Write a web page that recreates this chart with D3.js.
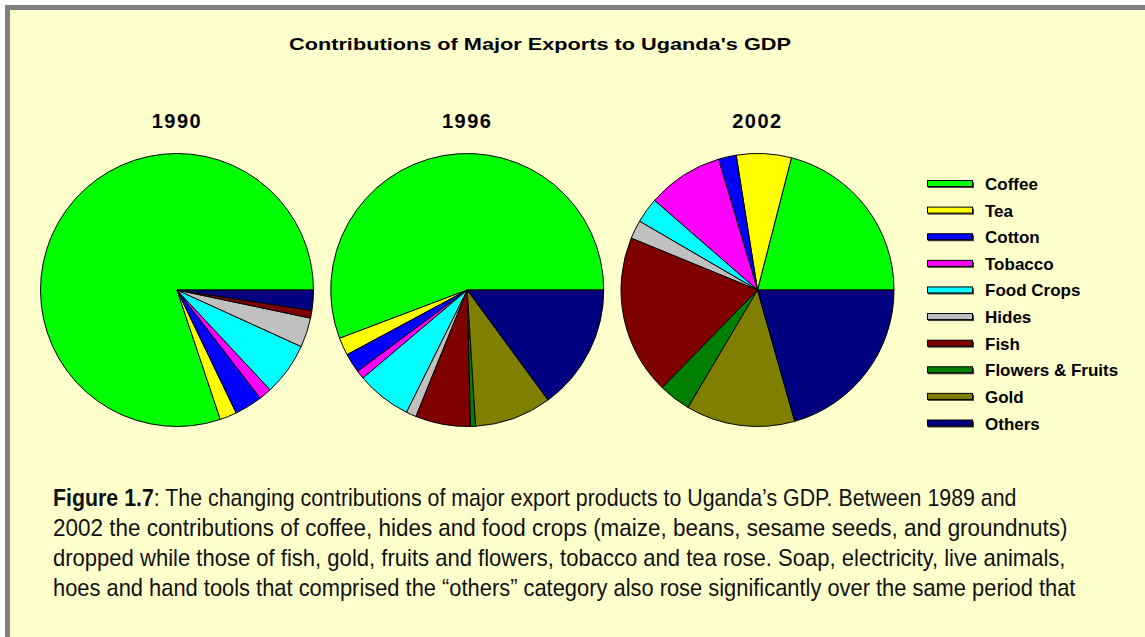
<!DOCTYPE html>
<html>
<head>
<meta charset="utf-8">
<style>
  body { margin: 0; background: #fff; }
  svg { display: block; }
</style>
</head>
<body>
<svg width="1145" height="637"></svg>
<script src="https://cdnjs.cloudflare.com/ajax/libs/d3/7.8.5/d3.min.js"></script>
<script>

// ---- data (percent of export contribution) ----
var categories = ["Coffee", "Tea", "Cotton", "Tobacco", "Food Crops", "Hides", "Fish", "Flowers & Fruits", "Gold", "Others"];
var colors = ["#00ff00", "#ffff00", "#0000ff", "#ff00ff", "#00ffff", "#c0c0c0", "#800000", "#008000", "#808000", "#000080"];
var years = ["1990", "1996", "2002"];
var values1990 = [80.1, 2.0, 3.3, 1.5, 6.25, 3.5, 0.9, 0, 0, 2.4];
var values1996 = [55.7, 2.1, 2.3, 1.0, 6.5, 1.2, 6.5, 0.6, 9.1, 14.9];
var values2002 = [21.0, 6.5, 2.1, 9.0, 3.0, 2.2, 18.9, 3.8, 12.9, 20.6];
var seriesByYear = [values1990, values1996, values2002];

var title = "Contributions of Major Exports to Uganda's GDP";
var captionBold = "Figure 1.7";
var captionLines = [
  ": The changing contributions of major export products to Uganda\u2019s GDP. Between 1989 and",
  "2002 the contributions of coffee, hides and food crops (maize, beans, sesame seeds, and groundnuts)",
  "dropped while those of fish, gold, fruits and flowers, tobacco and tea rose. Soap, electricity, live animals,",
  "hoes and hand tools that comprised the \u201cothers\u201d category also rose significantly over the same period that"
];

var svg = d3.select("svg"),
    width = +svg.attr("width"),
    height = +svg.attr("height");

// panel with grey frame (top and left edges visible)
svg.append("rect").attr("x", 5).attr("y", 5).attr("width", width).attr("height", height).attr("fill", "#808080");
svg.append("rect").attr("x", 10).attr("y", 10).attr("width", width).attr("height", height).attr("fill", "#ffffcc");

var headFont = "'Liberation Sans', Arial, sans-serif";

svg.append("text")
  .attr("x", 540).attr("y", 50)
  .attr("text-anchor", "middle")
  .attr("font-family", headFont)
  .attr("font-weight", "bold")
  .attr("font-size", 17)
  .attr("textLength", 502)
  .attr("lengthAdjust", "spacingAndGlyphs")
  .text(title);

var color = d3.scaleOrdinal().domain(categories).range(colors);

var cx = d3.scalePoint().domain(years).range([177, 757.5]);
var cy = 290, radius = 136.5;

// Excel style: start at 3 o'clock, go counter-clockwise
var pie = d3.pie()
  .sort(null)
  .value(function(d) { return d.value; })
  .startAngle(Math.PI / 2)
  .endAngle(Math.PI / 2 - 2 * Math.PI);

var arc = d3.arc().innerRadius(0).outerRadius(radius);

var pies = svg.selectAll("g.pie")
  .data(years)
  .enter()
  .append("g")
  .attr("class", "pie")
  .attr("transform", function(d) { return "translate(" + cx(d) + "," + cy + ")"; });

pies.append("text")
  .attr("y", -162)
  .attr("text-anchor", "middle")
  .attr("font-family", headFont)
  .attr("font-weight", "bold")
  .attr("font-size", 20)
  .attr("letter-spacing", 1.5)
  .text(function(d) { return d; });

pies.selectAll("path")
  .data(function(d, i) {
    var rows = categories.map(function(c, j) { return {name: c, value: seriesByYear[i][j]}; })
      .filter(function(r) { return r.value > 0; });
    return pie(rows);
  })
  .enter()
  .append("path")
  .attr("d", arc)
  .attr("fill", function(d) { return color(d.data.name); })
  .attr("stroke", "#000")
  .attr("stroke-width", 1)
  .attr("stroke-linejoin", "round");

// legend
var ly = d3.scalePoint().domain(categories).range([184, 423.5]);

var legend = svg.selectAll("g.legend")
  .data(categories)
  .enter()
  .append("g")
  .attr("class", "legend")
  .attr("transform", function(d) { return "translate(927," + ly(d) + ")"; });

legend.append("rect")
  .attr("x", 1).attr("y", -2)
  .attr("width", 46).attr("height", 6)
  .attr("fill", "#404040");
legend.append("rect")
  .attr("x", 0.5).attr("y", -3.5)
  .attr("width", 45).attr("height", 6)
  .attr("fill", function(d) { return color(d); })
  .attr("stroke", "#000")
  .attr("stroke-width", 1);

legend.append("text")
  .attr("x", 58).attr("y", 6)
  .attr("font-family", headFont)
  .attr("font-weight", "bold")
  .attr("font-size", 17)
  .text(function(d) { return d; });

// caption (narrow face imitated by squeezing each line to its width)
var capFont = "'Liberation Sans Narrow', 'Liberation Sans', Arial, sans-serif";
var lineEnds = [1017, 1068, 1066, 1076];
var caption = svg.append("g").attr("class", "caption");
captionLines.forEach(function(line, i) {
  var t = caption.append("text")
    .attr("x", 0).attr("y", 0)
    .attr("font-family", capFont)
    .attr("font-size", 24)
    .attr("fill", "#111");
  if (i === 0) {
    t.append("tspan").attr("font-weight", "bold").text(captionBold);
  }
  t.append("tspan").text(line);
  var w = t.node().getComputedTextLength();
  var k = (lineEnds[i] - 53) / w;
  t.attr("transform", "translate(53," + (506 + i * 30) + ") scale(" + k + ",1)");
});

</script>
</body>
</html>
